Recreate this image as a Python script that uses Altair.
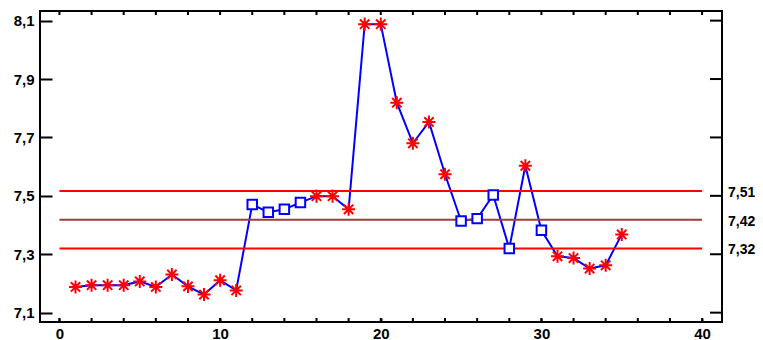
import altair as alt
import pandas as pd

# ---- data ----
sample = list(range(1, 36))
values = [7.188, 7.194, 7.194, 7.194, 7.207, 7.188, 7.231, 7.190, 7.162, 7.211,
          7.176, 7.470, 7.444, 7.454, 7.477, 7.499, 7.499, 7.454, 8.088, 8.088,
          7.819, 7.680, 7.753, 7.574, 7.414, 7.422, 7.503, 7.320, 7.603, 7.382,
          7.293, 7.287, 7.251, 7.262, 7.368]
flag = ["out"] * 11 + ["in"] * 4 + ["out"] * 9 + ["in"] * 4 + ["out", "in"] + ["out"] * 5

ctrl_values = [7.517, 7.418, 7.320]
ctrl_labels = ["7,51", "7,42", "7,32"]
ctrl_kind = ["limit", "center", "limit"]
ctrl_start = 0
ctrl_end = 40

x_labels = [0, 10, 20, 30, 40]
x_ticks = list(range(0, 41, 2))
y_ticks = [7.1, 7.3, 7.5, 7.7, 7.9, 8.1]

W, H = 682, 311
FONT = "Liberation Sans"
FS = 15

df = pd.DataFrame({"x": sample, "y": values, "flag": flag})
ctrl = pd.DataFrame({"y": ctrl_values, "label": ctrl_labels, "kind": ctrl_kind,
                     "x": [ctrl_start] * 3, "x2": [ctrl_end] * 3})
xt = pd.DataFrame({"t": x_ticks})
yt = pd.DataFrame({"t": y_ticks})

xs = alt.Scale(domain=[-1.21, 41.24], nice=False, zero=False)
ys = alt.Scale(domain=[7.068, 8.133], nice=False, zero=False)

label_expr_y = "replace(format(datum.value, '.1f'), '.', ',')"

x_axis = alt.Axis(values=x_labels, format="d", tickSize=4, offset=-4, domain=False,
                  grid=False, labelOverlap=False, labelFlush=False,
                  labelPadding=4, tickColor="black", tickWidth=2, title=None,
                  labelFont=FONT, labelFontSize=FS, labelFontWeight="bold", labelColor="black")
y_axis = alt.Axis(values=y_ticks, tickSize=12, offset=-12, domain=False, grid=False,
                  labelExpr=label_expr_y, labelPadding=6, tickColor="black", tickWidth=2,
                  labelOverlap=False, labelFlush=False,
                  title=None, labelFont=FONT, labelFontSize=FS, labelFontWeight="bold",
                  labelColor="black")

base = alt.Chart(df)

line = base.mark_line(color="#0000ff", strokeWidth=2).encode(
    x=alt.X("x:Q", scale=xs, axis=x_axis),
    y=alt.Y("y:Q", scale=ys, axis=y_axis),
)

rules = alt.Chart(ctrl).mark_rule(strokeWidth=2).encode(
    x=alt.X("x:Q"),
    x2="x2:Q",
    y=alt.Y("y:Q"),
    color=alt.Color("kind:N", scale=alt.Scale(domain=["limit", "center"],
                                              range=["#ff0000", "#a03c3c"]), legend=None),
)

# inward ticks on the frame edges (top, bottom minor, right)
top_ticks = alt.Chart(xt).mark_rule(color="black", strokeWidth=2).encode(
    x=alt.X("t:Q"), y=alt.value(0), y2=alt.value(4))
bottom_ticks = alt.Chart(xt).mark_rule(color="black", strokeWidth=2).encode(
    x=alt.X("t:Q"), y=alt.value(H - 4), y2=alt.value(H))
right_ticks = alt.Chart(yt).mark_rule(color="black", strokeWidth=2).encode(
    y=alt.Y("t:Q"), x=alt.value(W - 12), x2=alt.value(W))

ast_path = ("M-1,0L1,0M0,-1L0,1M-0.72,-0.72L0.72,0.72M-0.72,0.72L0.72,-0.72")

stars = base.transform_filter(alt.datum.flag == "out").mark_point(
    shape=ast_path, size=170, stroke="#ff0000", strokeWidth=2, filled=False, opacity=1
).encode(x="x:Q", y="y:Q")

squares = base.transform_filter(alt.datum.flag == "in").mark_point(
    shape="square", size=90, stroke="#0000ff", strokeWidth=2, fill="white", filled=True,
    opacity=1
).encode(x="x:Q", y="y:Q")

labels = alt.Chart(ctrl).mark_text(
    align="left", baseline="middle", font=FONT, fontSize=14, fontWeight="bold",
    color="black", dy=2
).encode(x=alt.value(W + 6), y=alt.Y("y:Q"), text="label:N")

chart = alt.layer(line, rules, top_ticks, bottom_ticks, right_ticks, stars, squares,
                  labels).properties(
    width=W, height=H,
    autosize=alt.AutoSizeParams(type="none"),
    padding={"left": 32, "top": 3, "right": 33, "bottom": 18},
).configure_view(stroke="black", strokeWidth=2)

chart.save("out.html", embed_options={"renderer": "svg", "actions": False})
